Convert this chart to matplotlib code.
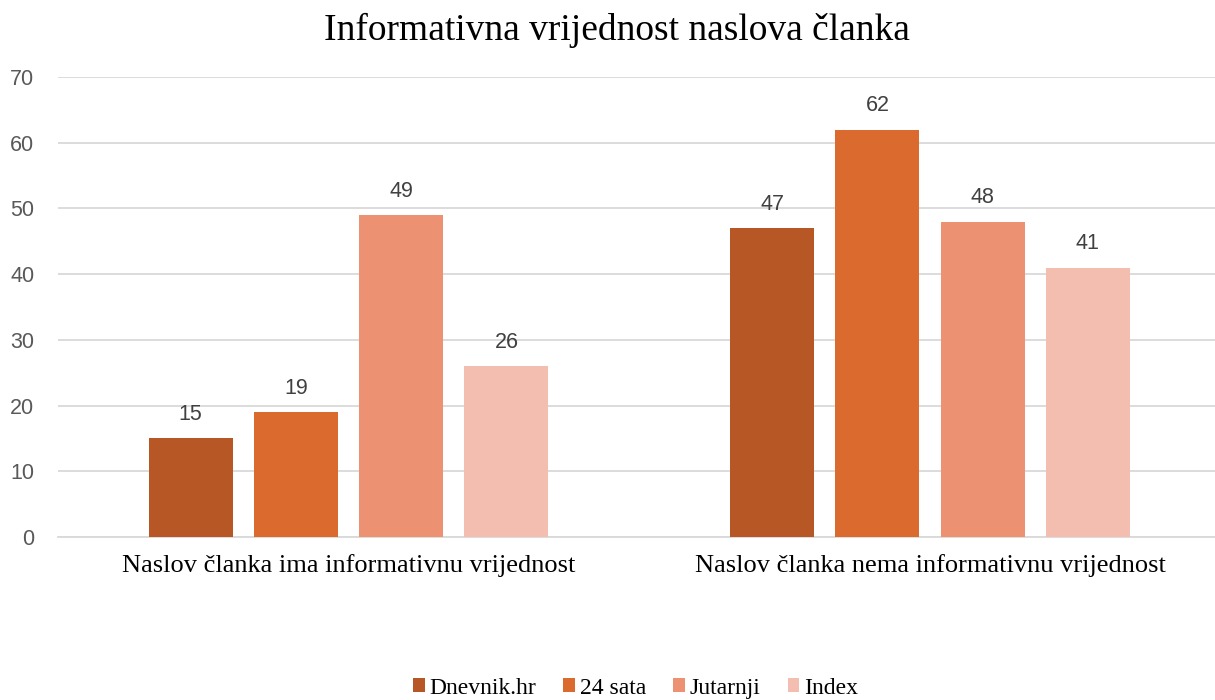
import numpy as np
import matplotlib.pyplot as plt

categories = ['Naslov članka ima informativnu vrijednost',
              'Naslov članka nema informativnu vrijednost']
series = ['Dnevnik.hr', '24 sata', 'Jutarnji', 'Index']
values = {
    'Dnevnik.hr': [15, 47],
    '24 sata': [19, 62],
    'Jutarnji': [49, 48],
    'Index': [26, 41],
}
colors = ['#B85726', '#DA6A2E', '#EC9172', '#F3BDB0']

fig = plt.figure(figsize=(12.15, 7), dpi=100)
ax = fig.add_axes([0.0477, 0.233, 0.9523, 0.657])

x = np.arange(len(categories))
width = 0.1445
step = 0.181
for i, (name, col) in enumerate(zip(series, colors)):
    pos = x + (i - 1.5) * step
    bars = ax.bar(pos, values[name], width, color=col, label=name, zorder=3)
    for b, v in zip(bars, values[name]):
        ax.text(b.get_x() + b.get_width() / 2, v + 3.6, str(v), ha='center', va='center',
                fontsize=15.5, color='#404040', family='Liberation Sans')

ax.set_xlim(-0.4996, 1.49)
ax.set_ylim(0, 70)
ax.set_yticks(range(0, 71, 10))
ax.yaxis.grid(True, color='#D9D9D9', linewidth=1.3, zorder=0)
ax.set_xticks(x)
ax.set_xticklabels(categories, fontsize=19, family='Liberation Serif', color='#000000')
for lab in ax.get_yticklabels():
    lab.set_family('Liberation Sans')
    lab.set_fontsize(15.5)
    lab.set_color('#595959')
ax.tick_params(axis='both', length=0)
ax.tick_params(axis='y', pad=17)
ax.tick_params(axis='x', pad=12)
for s in ['top', 'right', 'left']:
    ax.spines[s].set_visible(False)
ax.spines['bottom'].set_color('#D9D9D9')
ax.spines['bottom'].set_linewidth(1.3)

fig.text(0.508, 0.957, 'Informativna vrijednost naslova članka', fontsize=27,
         family='Liberation Serif', ha='center', va='center')
fig.legend(loc='center', ncol=4, frameon=False, bbox_to_anchor=(0.523, 0.017),
           prop={'family': 'Liberation Serif', 'size': 17}, handlelength=0.5,
           handleheight=0.5, handletextpad=0.2, columnspacing=1.15)

fig.savefig('out.png', dpi=100)
